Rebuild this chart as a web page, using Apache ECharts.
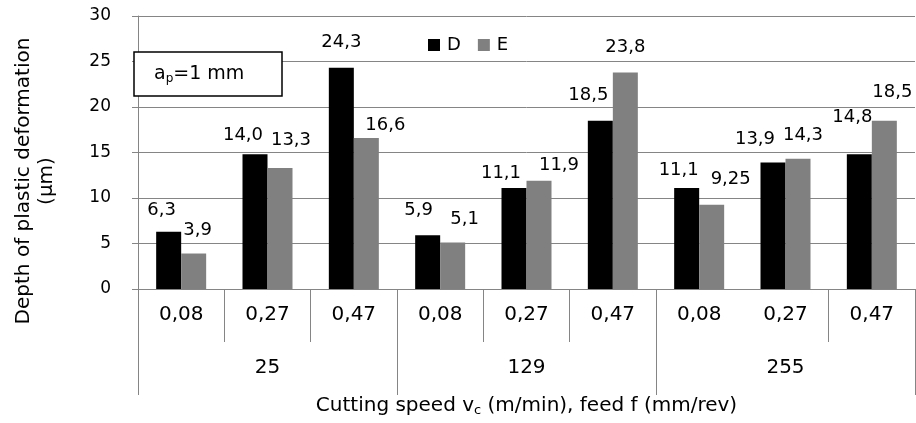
<!DOCTYPE html>
<html><head><meta charset="utf-8">
<script src="https://cdn.jsdelivr.net/npm/echarts@6/dist/echarts.min.js"></script>
<style>html,body{margin:0;padding:0;background:#fff}#c{width:916px;height:423px}</style>
</head><body><div id="c"></div>
<script>
var feeds = ["0,08","0,27","0,47","0,08","0,27","0,47","0,08","0,27","0,47"];
var speeds = ["25","129","255"];
var seriesD = [6.3, 14.8, 24.3, 5.9, 11.1, 18.5, 11.1, 13.9, 14.8];
var seriesE = [3.9, 13.3, 16.6, 5.1, 11.9, 23.8, 9.25, 14.3, 18.5];
var labelsD = ["6,3","14,0","24,3","5,9","11,1","18,5","11,1","13,9","14,8"];
var labelsE = ["3,9","13,3","16,6","5,1","11,9","23,8","9,25","14,3","18,5"];
var yTicks = [0, 5, 10, 15, 20, 25, 30];

// label placement styling (pixel nudges, not data)
var nudgeD = [[-7,0],[-12,2],[0,-5],[-9,-4],[-13,6],[-12,-4],[-8,3],[-18,-2],[-7,-16]];
var nudgeE = [[4,-2],[11,-7],[19,8],[12,-2],[20,6],[0,-4],[19,-4],[5,-3],[8,-7]];

var FONT = "DejaVu Sans";
var GRAY = "#858585";
function build(vals, nudges){
  return vals.map(function(v,i){ return {value:v, label:{offset:nudges[i]}}; });
}
var chart = echarts.init(document.getElementById('c'), null, {renderer:'canvas'});
chart.setOption({
  animation:false,
  backgroundColor:'#fff',
  textStyle:{fontFamily:FONT, color:'#000'},
  grid:{left:138, right:1, top:16, bottom:134, containLabel:false},
  legend:{
    left:423, top:31, itemWidth:12, itemHeight:12, itemGap:17, icon:'rect',
    textStyle:{fontFamily:FONT, fontSize:18, color:'#000', padding:[0,0,0,2]},
    data:['D','E']
  },
  xAxis:[{
    type:'category', data:feeds, position:'bottom',
    axisLine:{show:true, lineStyle:{color:GRAY, width:1}},
    axisTick:{show:true, length:53, lineStyle:{color:GRAY, width:1},
      interval:function(i){ return i !== 7; }},
    axisLabel:{fontFamily:FONT, fontSize:20, color:'#000', margin:16, interval:0}
  },{
    type:'category', data:speeds, position:'bottom',
    axisLine:{show:false},
    axisTick:{show:true, length:106, lineStyle:{color:GRAY, width:1}},
    axisLabel:{fontFamily:FONT, fontSize:20, color:'#000', margin:69, interval:0},
    name:'{n|Cutting speed v}{s|c}{n| (m/min), feed f (mm/rev)}',
    nameLocation:'middle', nameGap:105,
    nameTextStyle:{rich:{
      n:{fontFamily:FONT, fontSize:20, color:'#000'},
      s:{fontFamily:FONT, fontSize:13, color:'#000', padding:[10,0,0,0]}
    }}
  }],
  yAxis:{
    type:'value', min:yTicks[0], max:yTicks[yTicks.length-1], interval:5,
    axisLine:{show:true, lineStyle:{color:GRAY, width:1}},
    axisTick:{show:true, length:6, lineStyle:{color:GRAY, width:1}},
    splitLine:{show:true, lineStyle:{color:GRAY, width:1}},
    axisLabel:{fontFamily:FONT, fontSize:17, color:'#000', margin:27}
  },
  series:[{
    name:'D', type:'bar', xAxisIndex:0, barWidth:25, barGap:'0%',
    itemStyle:{color:'#000'}, data:build(seriesD, nudgeD),
    label:{show:true, position:'top', distance:12,
      fontFamily:FONT, fontSize:18, color:'#000',
      formatter:function(p){ return labelsD[p.dataIndex]; }}
  },{
    name:'E', type:'bar', xAxisIndex:0, barWidth:25, barGap:'0%',
    itemStyle:{color:'#808080'}, data:build(seriesE, nudgeE),
    label:{show:true, position:'top', distance:12,
      fontFamily:FONT, fontSize:18, color:'#000',
      formatter:function(p){ return labelsE[p.dataIndex]; }}
  }],
  graphic:[
    {type:'rect', shape:{x:134, y:52, width:148, height:44},
     style:{fill:'#fff', stroke:'#000', lineWidth:1.5}, z:100},
    {type:'text', x:154, y:74, z:101,
     style:{text:'{a|a}{s|p}{a|=1 mm}', textVerticalAlign:'middle',
       rich:{a:{fontFamily:FONT, fontSize:19, color:'#000'},
             s:{fontFamily:FONT, fontSize:12, color:'#000', padding:[9,0,0,0]}}}},
    {type:'text', x:24, y:181, rotation:Math.PI/2, z:101,
     style:{text:'Depth of plastic deformation', fontFamily:FONT, fontSize:20, fill:'#000',
       textAlign:'center', textVerticalAlign:'middle'}},
    {type:'text', x:47, y:181, rotation:Math.PI/2, z:101,
     style:{text:'(µm)', fontFamily:FONT, fontSize:20, fill:'#000',
       textAlign:'center', textVerticalAlign:'middle'}}
  ]
});
</script></body></html>
